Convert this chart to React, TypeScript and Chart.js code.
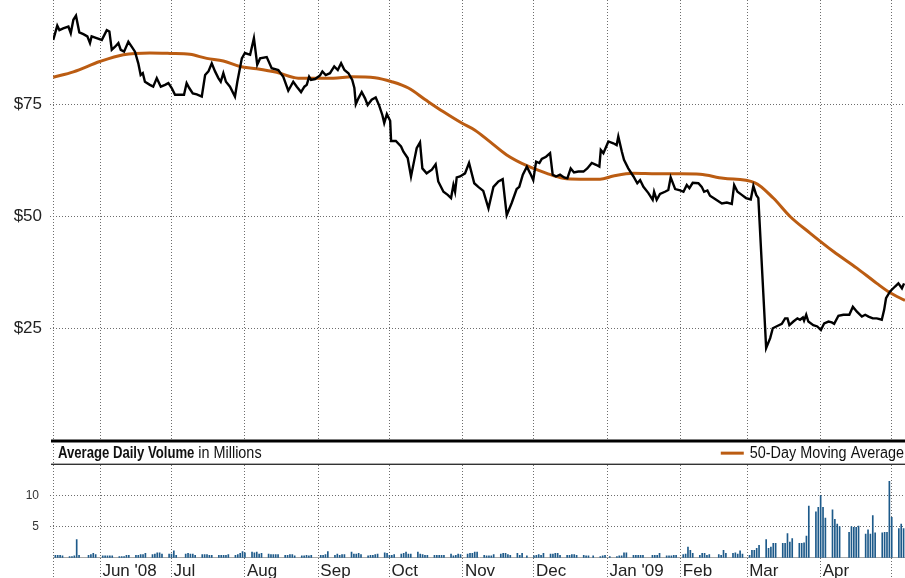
import React, { useEffect, useRef } from 'react';
import { Chart, registerables } from 'chart.js';

Chart.register(...registerables);

// x values are calendar days counted from 2008-05-12
const START = Date.UTC(2008, 4, 12);
const DAY_MS = 86400000;
const dayOf = (s: string) =>
  (Date.UTC(+s.slice(0, 4), +s.slice(5, 7) - 1, +s.slice(8, 10)) - START) / DAY_MS;
const X_MAX_DAY = 359.6;

const monthStarts = [
  '2008-06-01', '2008-07-01', '2008-08-01', '2008-09-01', '2008-10-01', '2008-11-01',
  '2008-12-01', '2009-01-01', '2009-02-01', '2009-03-01', '2009-04-01', '2009-05-01',
];
const monthLabels = ["Jun '08", 'Jul', 'Aug', 'Sep', 'Oct', 'Nov', 'Dec', "Jan '09", 'Feb', 'Mar', 'Apr', ''];

const priceTicks = [25, 50, 75];
const volumeTicks = [5, 10];

const holidays = [
  '2008-05-26', '2008-07-04', '2008-09-01', '2008-11-27', '2008-12-25',
  '2009-01-01', '2009-01-19', '2009-02-16', '2009-04-10',
];

// [day, closing price]
const priceSeries: [number, number][] = [
  [0.1, 89.3], [1.8, 92.5], [2.7, 91.5], [4.3, 91.9], [6.5, 92.3], [7.5, 90.8], [8.6, 93.8], [9.7, 94.7],
  [11.1, 91.0], [12.8, 90.6], [14.5, 90.1], [15.6, 88.6], [16.3, 90.1], [18.4, 89.7], [20.6, 89.3],
  [22.7, 91.5], [23.8, 91.2], [24.8, 87.1], [26.2, 87.8], [27.6, 88.6], [28.6, 87.1], [30.0, 86.7],
  [31.8, 88.9], [33.2, 87.8], [34.6, 86.7], [36.0, 84.1], [37.0, 81.5], [37.9, 81.9], [38.8, 80.0],
  [40.9, 79.3], [42.3, 78.9], [43.8, 80.8], [45.5, 78.9], [47.3, 79.3], [48.7, 79.7], [50.1, 78.6],
  [51.5, 77.1], [53.3, 77.1], [55.3, 77.1], [56.4, 79.7], [57.5, 78.6], [59.0, 77.4], [60.7, 77.2],
  [62.8, 76.7], [64.2, 81.5], [65.6, 82.3], [67.0, 84.1], [68.4, 82.3], [69.8, 80.8], [70.8, 80.0],
  [71.9, 81.9], [73.0, 80.0], [74.7, 78.9], [76.8, 76.7], [77.8, 80.0], [79.7, 85.2], [81.0, 86.4],
  [83.2, 86.0], [84.8, 89.7], [86.2, 83.8], [87.4, 85.2], [90.2, 85.5], [92.3, 83.0], [95.1, 82.6],
  [97.2, 81.1], [99.3, 78.0], [101.4, 80.0], [102.9, 78.9], [104.7, 77.7], [106.1, 78.9], [107.1, 79.3],
  [108.1, 81.1], [108.9, 80.4], [110.6, 80.6], [112.7, 81.4], [113.7, 82.3], [115.1, 81.5], [116.9, 81.9],
  [118.7, 83.4], [120.2, 82.6], [121.6, 84.1], [123.0, 82.6], [124.7, 81.9], [126.3, 80.4], [127.2, 78.6],
  [127.8, 75.0], [128.9, 76.3], [130.3, 77.7], [131.7, 76.3], [132.8, 74.8], [134.5, 76.0], [136.2, 76.5],
  [137.6, 74.8], [139.0, 72.6], [139.8, 70.8], [140.9, 72.8], [142.3, 71.3], [142.7, 66.8], [144.7, 66.8],
  [146.9, 65.6], [147.9, 64.4], [149.7, 63.0], [151.1, 58.9], [152.5, 62.6], [153.5, 65.2], [154.9, 66.5],
  [155.9, 60.7], [157.7, 59.6], [159.9, 60.4], [161.5, 61.6], [162.6, 57.8], [164.8, 55.5], [166.6, 54.8],
  [168.0, 54.1], [169.0, 57.0], [169.7, 55.5], [170.4, 58.7], [171.8, 58.9], [173.9, 59.6], [175.6, 61.9],
  [177.8, 57.4], [179.5, 56.6], [181.6, 55.7], [183.8, 51.8], [185.9, 56.6], [188.0, 57.8], [189.8, 58.3],
  [191.5, 50.3], [193.6, 53.0], [195.7, 56.1], [196.8, 56.6], [198.3, 59.3], [200.0, 61.1], [201.4, 59.6],
  [202.7, 58.1], [203.9, 62.2], [205.3, 61.9], [206.3, 62.8], [208.1, 63.3], [209.8, 64.1], [210.9, 59.3],
  [212.3, 58.9], [214.0, 59.3], [215.7, 58.7], [217.1, 58.5], [218.5, 60.7], [219.9, 59.8], [221.7, 60.0],
  [223.9, 60.0], [225.5, 60.7], [227.4, 61.9], [229.2, 61.5], [230.6, 61.1], [231.2, 64.8], [232.3, 64.1],
  [234.4, 66.7], [236.5, 66.3], [237.9, 65.9], [238.6, 67.8], [240.1, 64.4], [241.0, 62.6], [242.8, 60.7],
  [245.0, 58.9], [246.6, 57.4], [247.8, 58.1], [249.2, 56.6], [251.3, 55.2], [253.1, 53.7], [253.7, 55.5],
  [254.8, 53.7], [256.2, 55.0], [258.3, 55.5], [259.7, 55.9], [260.7, 58.7], [262.6, 56.1], [264.7, 55.8],
  [266.1, 55.5], [267.5, 57.0], [268.6, 56.3], [270.0, 57.5], [272.4, 57.4], [273.8, 56.6], [274.8, 55.5],
  [276.2, 55.8], [277.3, 54.6], [279.9, 53.7], [282.3, 52.9], [284.4, 53.1], [286.5, 52.8], [287.5, 57.0],
  [288.9, 55.5], [290.7, 54.8], [292.5, 54.1], [294.5, 53.8], [295.6, 56.8], [296.8, 54.8], [297.7, 54.1],
  [301.0, 20.7], [302.7, 22.9], [303.8, 25.1], [305.7, 25.6], [307.6, 26.1], [309.0, 27.3], [310.0, 27.3],
  [310.8, 25.8], [312.5, 26.6], [314.2, 27.3], [315.3, 27.0], [316.5, 27.5], [317.0, 26.8], [317.9, 28.1],
  [318.8, 26.6], [320.9, 25.8], [322.6, 25.5], [324.1, 24.7], [325.5, 26.2], [327.3, 26.6], [328.7, 26.4],
  [329.7, 26.1], [331.5, 27.9], [333.6, 28.1], [336.1, 28.1], [337.6, 29.9], [339.3, 28.8], [341.4, 27.7],
  [342.8, 28.1], [344.2, 27.7], [346.0, 27.3], [347.7, 27.3], [349.8, 27.0], [350.8, 29.2], [351.6, 31.8],
  [353.3, 33.3], [355.4, 34.4], [356.8, 35.1], [358.3, 34.0], [359.2, 35.1],
];

// [day, 50-day moving average]
const movingAverage: [number, number][] = [
  [0.1, 81.0], [8.6, 82.2], [19.8, 84.5], [29.7, 86.0], [40.9, 86.4], [49.4, 86.3], [57.8, 86.1],
  [64.9, 85.2], [71.9, 84.6], [78.9, 83.4], [86.0, 82.9], [94.4, 82.1], [103.5, 80.8], [110.6, 80.8],
  [118.3, 80.8], [126.1, 81.1], [135.9, 80.9], [143.0, 80.0], [150.0, 78.6], [157.7, 75.8], [164.8, 73.3],
  [172.5, 70.8], [178.1, 69.2], [184.5, 66.6], [191.5, 63.7], [200.0, 61.3], [208.4, 59.6], [215.4, 58.5],
  [222.5, 58.3], [230.9, 58.3], [236.5, 59.0], [245.0, 59.6], [254.8, 59.5], [264.7, 59.5], [273.1, 59.4],
  [282.9, 58.5], [296.3, 57.5], [304.0, 54.1], [311.1, 50.0], [319.5, 46.3], [329.4, 42.2], [339.3, 38.5],
  [347.7, 35.1], [353.3, 33.0], [359.6, 31.3],
];

// Daily volume (millions), one value per trading day, grouped by month
const volMay08 = [0.4, 0.4, 0.4, 0.3, 0.2, 0.2, 0.3, 2.9, 0.4, 0.4, 0.5, 0.7, 0.5];
const volJun08 = [0.3, 0.3, 0.3, 0.3, 0.3, 0.2, 0.2, 0.2, 0.4, 0.4, 0.4, 0.4, 0.5, 0.5, 0.7, 0.5, 0.6, 0.8, 0.8, 0.6, 0.6];
const volJul08 = [0.6, 1.1, 0.4, 0.6, 0.7, 0.6, 0.6, 0.4, 0.5, 0.5, 0.5, 0.4, 0.4, 0.4, 0.4, 0.4, 0.4, 0.5, 0.4, 0.5, 0.7, 1.0];
const volAug08 = [0.8, 0.9, 0.8, 0.9, 0.6, 0.7, 0.6, 0.5, 0.5, 0.5, 0.5, 0.4, 0.4, 0.5, 0.5, 0.3, 0.3, 0.3, 0.4, 0.3, 0.4];
const volSep08 = [0.4, 0.4, 0.5, 1.0, 0.4, 0.6, 0.4, 0.5, 0.5, 0.9, 0.6, 0.6, 0.7, 0.5, 0.3, 0.4, 0.4, 0.5, 0.6, 0.8, 0.7];
const volOct08 = [0.4, 0.4, 0.5, 0.6, 0.7, 0.9, 0.6, 0.6, 0.9, 0.6, 0.5, 0.4, 0.4, 0.4, 0.4, 0.4, 0.4, 0.4, 0.6, 0.3, 0.4, 0.6, 0.5];
const volNov08 = [0.6, 0.7, 0.7, 0.9, 0.9, 0.4, 0.3, 0.3, 0.3, 0.5, 0.6, 0.7, 0.7, 0.5, 0.4, 0.7, 0.4, 0.7, 0.3];
const volDec08 = [0.3, 0.4, 0.5, 0.4, 0.7, 0.6, 0.6, 0.7, 0.7, 0.4, 0.4, 0.4, 0.5, 0.5, 0.4, 0.4, 0.3, 0.3, 0.3, 0.2, 0.3, 0.4];
const volJan09 = [0.2, 0.2, 0.3, 0.3, 0.8, 0.8, 0.4, 0.4, 0.4, 0.4, 0.4, 0.4, 0.4, 0.4, 0.7, 0.3, 0.3, 0.3, 0.4, 0.4];
const volFeb09 = [0.5, 0.6, 1.7, 1.2, 0.7, 0.4, 0.7, 0.7, 0.4, 0.5, 0.5, 0.4, 1.2, 0.7, 0.7, 0.8, 0.6, 1.1, 0.6];
const volMar09 = [0.4, 1.2, 1.2, 1.5, 2.0, 2.9, 1.5, 1.7, 2.3, 2.3, 2.3, 2.3, 3.9, 2.5, 3.1, 2.3, 2.3, 2.4, 3.5, 8.3, 7.4, 8.1];
const volApr09 = [10.0, 8.1, 6.4, 7.7, 6.2, 5.4, 5.0, 4.1, 5.0, 4.9, 4.9, 5.1, 3.8, 4.5, 3.8, 6.8, 4.0, 4.0, 4.1, 4.1, 12.3];
const volMay09 = [6.5, 4.7, 5.4, 4.7];

const volumeByMonth: [string, number[]][] = [
  ['2008-05-13', volMay08], ['2008-06-01', volJun08], ['2008-07-01', volJul08], ['2008-08-01', volAug08],
  ['2008-09-01', volSep08], ['2008-10-01', volOct08], ['2008-11-01', volNov08], ['2008-12-01', volDec08],
  ['2009-01-01', volJan09], ['2009-02-01', volFeb09], ['2009-03-01', volMar09], ['2009-04-01', volApr09],
  ['2009-05-01', volMay09],
];

const ORANGE = '#bb5c12';
const BLUE = '#1d5a8a';
const GRID = '#6d6d6d';
const SANS = "'Liberation Sans', Arial, Helvetica, sans-serif";

function tradingDays(from: string, count: number): number[] {
  const holidaySet = new Set(holidays.map(dayOf));
  const out: number[] = [];
  let d = dayOf(from);
  while (out.length < count) {
    const wd = new Date(START + d * DAY_MS).getUTCDay();
    if (wd !== 0 && wd !== 6 && !holidaySet.has(d)) out.push(d);
    d += 1;
  }
  return out;
}

function narrowText(ctx: CanvasRenderingContext2D, text: string, x: number, y: number, font: string, k: number) {
  ctx.save();
  ctx.font = font;
  ctx.translate(x, y);
  ctx.scale(k, 1);
  ctx.fillText(text, 0, 0);
  const w = ctx.measureText(text).width * k;
  ctx.restore();
  return w;
}

const bandPlugin = {
  id: 'volumeBand',
  afterDraw(chart: any) {
    const ctx = chart.ctx as CanvasRenderingContext2D;
    const area = chart.chartArea;
    const top = chart.scales.y.bottom;
    const bandH = 23.3;
    ctx.save();
    ctx.fillStyle = '#ffffff';
    ctx.fillRect(area.left + 1, top, area.right - area.left, bandH);
    ctx.fillStyle = '#000';
    ctx.fillRect(area.left - 2, top - 1.5, area.right - area.left + 2, 3);
    ctx.fillStyle = '#333';
    ctx.fillRect(area.left - 2, top + bandH - 0.7, area.right - area.left + 2, 1.4);

    const midY = top + bandH / 2 + 0.5;
    ctx.textBaseline = 'middle';
    ctx.textAlign = 'left';
    ctx.fillStyle = '#111';
    const x0 = area.left + 5;
    const w = narrowText(ctx, 'Average Daily Volume', x0, midY, `bold 16px ${SANS}`, 0.82);
    narrowText(ctx, ' in Millions', x0 + w, midY, `16px ${SANS}`, 0.9);

    ctx.font = `16px ${SANS}`;
    const legendText = '50-Day Moving Average';
    const lw = ctx.measureText(legendText).width * 0.9;
    const lx = area.right - 1 - lw;
    narrowText(ctx, legendText, lx, midY, `16px ${SANS}`, 0.9);
    ctx.strokeStyle = ORANGE;
    ctx.lineWidth = 3;
    ctx.beginPath();
    ctx.moveTo(lx - 29, midY);
    ctx.lineTo(lx - 6, midY);
    ctx.stroke();
    ctx.restore();
  },
};

export default function App() {
  const ref = useRef<HTMLCanvasElement | null>(null);

  useEffect(() => {
    document.body.style.margin = '0';
    const canvas = ref.current;
    if (!canvas) return;

    const xTicks = [0, ...monthStarts.map(dayOf)];
    const xLabels = ['', ...monthLabels];

    const volPoints: { x: number; y: number }[] = [];
    for (const [from, vals] of volumeByMonth) {
      const days = tradingDays(from, vals.length);
      vals.forEach((v, i) => volPoints.push({ x: days[i], y: v }));
    }

    const noPad = (s: any) => {
      s.width = 53;
      s.paddingTop = 0;
      s.paddingBottom = 0;
    };

    const chart = new Chart(canvas, {
      type: 'line',
      data: {
        datasets: [
          {
            type: 'line',
            label: 'Price',
            data: priceSeries.map(([x, y]) => ({ x, y })),
            yAxisID: 'y',
            borderColor: '#000',
            borderWidth: 2.4,
            pointRadius: 0,
            tension: 0,
            borderJoinStyle: 'miter',
          },
          {
            type: 'line',
            label: '50-Day Moving Average',
            data: movingAverage.map(([x, y]) => ({ x, y })),
            yAxisID: 'y',
            borderColor: ORANGE,
            borderWidth: 3,
            pointRadius: 0,
            cubicInterpolationMode: 'monotone',
          },
          {
            type: 'bar',
            label: 'Volume',
            data: volPoints,
            yAxisID: 'y2',
            backgroundColor: BLUE,
            barThickness: 1,
          },
        ] as any,
      },
      options: {
        animation: false,
        responsive: false,
        devicePixelRatio: 1,
        layout: { padding: 0 },
        plugins: { legend: { display: false }, tooltip: { enabled: false } },
        scales: {
          x: {
            type: 'linear',
            min: 0,
            max: X_MAX_DAY,
            offset: false,
            afterBuildTicks: (s: any) => {
              s.ticks = xTicks.map((v) => ({ value: v }));
            },
            afterFit: (s: any) => {
              s.height = 20.3;
              s.paddingLeft = 0;
              s.paddingRight = 0;
            },
            ticks: {
              autoSkip: false,
              maxRotation: 0,
              minRotation: 0,
              align: 'start',
              labelOffset: 2,
              padding: -18,
              color: '#222',
              font: { family: SANS, size: 17 },
              callback: (_v: any, i: number) => xLabels[i],
            },
            grid: {
              color: GRID,
              tickColor: GRID,
              tickLength: 21,
              tickBorderDash: [1, 2],
              offset: false,
            },
            border: { display: true, color: '#a8a8a8', dash: [1, 2] },
          },
          y: {
            type: 'linear',
            position: 'left',
            stack: 'left',
            stackWeight: 441,
            weight: 2,
            min: 0,
            max: 98.2,
            afterBuildTicks: (s: any) => {
              s.ticks = priceTicks.map((v) => ({ value: v }));
            },
            afterFit: noPad,
            ticks: {
              padding: 8,
              color: '#222',
              font: { family: SANS, size: 17 },
              callback: (v: any) => '$' + v,
            },
            grid: { color: GRID, tickColor: GRID, tickLength: 3, tickBorderDash: [1, 2] },
            border: { display: false, dash: [1, 2] },
          },
          y2: {
            type: 'linear',
            position: 'left',
            stack: 'left',
            stackWeight: 116.7,
            weight: 1,
            min: 0,
            max: 18.8,
            afterBuildTicks: (s: any) => {
              s.ticks = volumeTicks.map((v) => ({ value: v }));
            },
            afterFit: noPad,
            ticks: {
              padding: 11,
              color: '#333',
              font: { family: SANS, size: 12 },
            },
            grid: { color: GRID, tickColor: GRID, tickLength: 3, tickBorderDash: [1, 2] },
            border: { display: false, dash: [1, 2] },
          },
        },
      } as any,
      plugins: [bandPlugin],
    });

    return () => chart.destroy();
  }, []);

  return (
    <div style={{ width: 905, height: 578 }}>
      <canvas ref={ref} width={905} height={578} style={{ display: 'block' }} />
    </div>
  );
}
